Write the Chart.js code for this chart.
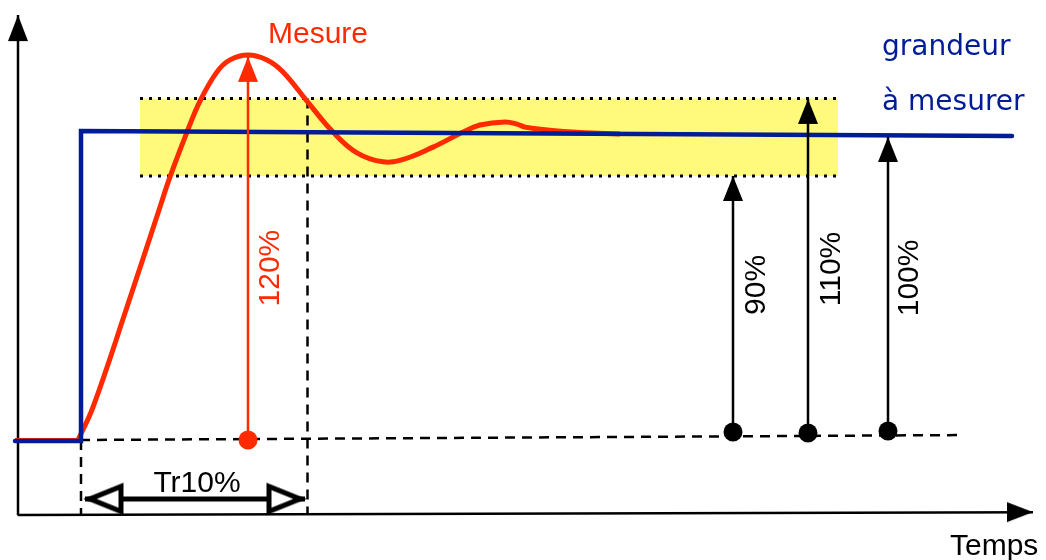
<!DOCTYPE html>
<html>
<head>
<meta charset="utf-8">
<title>Temps de réponse à 10 %</title>
<script src="https://cdn.jsdelivr.net/npm/chart.js@4.4.1/dist/chart.umd.min.js"></script>
<style>
  html, body { margin: 0; padding: 0; background: #fff; }
  #wrap { width: 1046px; height: 560px; position: relative; }
</style>
</head>
<body>
<div id="wrap"><canvas id="chart"></canvas></div>
<script>
// x = temps (unités arbitraires), y = grandeur en % de la valeur finale

// consigne (grandeur à mesurer) : échelon
const consigneT = [1.5, 8.1, 8.1, 101.2];
const consigneV = [-0.3, -0.3, 100.65, 99.0];

// mesure : palier puis réponse amortie
const mesurePalierT = [1.5, 7.8];
const mesurePalierV = [0, 0];
const mesureT = [7.8, 9.3, 12.7, 16.0, 17.0, 18.7, 20.0, 21.7, 23.0, 24.8, 26.7, 28.3, 30.7, 33.3, 35.7, 38.3, 40.5, 43.3, 46.3, 48.0, 50.5, 51.7, 52.5, 54.5, 58.0, 62.0];
const mesureV = [0, 10.7, 43.3, 75.9, 85.7, 100.3, 110.4, 119.9, 123.8, 125.4, 123.8, 119.9, 110.4, 100.3, 93.5, 90.6, 91.6, 95.4, 100.3, 102.6, 103.6, 102.9, 101.9, 101.1, 100.2, 99.7];

// bande de tolérance
const bandeT = [14.0, 83.8];
const bandeHaut = 111.2;
const bandeBas = 86.0;

// repère 0 % (pointillés) et limites verticales
const zeroT = [8.0, 95.8];
const zeroV = [0, 1.6];
const repereT = [8.1, 30.75];
const repereHaut = [0, 111.2];
const axeBas = -24.4;

// flèches verticales : 120 %, 90 %, 110 %, 100 %
const flecheT = [24.8, 73.3, 80.8, 88.8];
const flechePied = [0, 2.6, 2.3, 2.9];
const flecheTete = [124.8, 86.0, 111.1, 98.7];

// temps de réponse Tr10%
const trT = [8.5, 30.5];
const trV = -19.2;

// axes
const axeXT = [1.75, 103.3];
const axeXV = [-24.4, -23.5];
const axeYT = [1.8, 1.8];
const axeYV = [-24.4, 138.4];

// textes
const noteTexts = ['Mesure', 'grandeur', 'à mesurer', 'Tr10%', 'Temps', '120%', '90%', '110%', '100%'];
const noteT = [31.8, 88.2, 88.2, 19.7, 95.0, 27.1, 75.65, 83.2, 91.0];
const noteV = [129.3, 125.4, 107.5, -16.9, -37.3, 56.0, 50.5, 55.7, 52.8];

const RED = '#ff2a00';
const BLUE = '#001c96';
const YELLOW = '#fffa7c';

function pts(ts, vs) {
  return ts.map((t, i) => ({ x: t, y: Array.isArray(vs) ? vs[i] : vs }));
}

// pointe de flèche dessinée dans un canvas, la pointe au centre de l'image
function arrowHead(len, width, color, open) {
  const pad = open ? 8 : 1;
  const c = document.createElement('canvas');
  c.width = width + 2 * pad;
  c.height = 2 * (len + pad);
  const g = c.getContext('2d');
  const cx = c.width / 2;
  const tip = c.height / 2 + (open ? 5 : 0);
  g.beginPath();
  g.moveTo(cx, tip);
  g.lineTo(cx - width / 2, tip + len);
  g.lineTo(cx + width / 2, tip + len);
  g.closePath();
  if (open) {
    g.fillStyle = '#fff';
    g.fill();
    g.lineWidth = 5;
    g.lineJoin = 'miter';
    g.strokeStyle = color;
    g.stroke();
  } else {
    g.fillStyle = color;
    g.fill();
  }
  return c;
}

const headBlack = arrowHead(25, 20, '#000', false);
const headRed = arrowHead(25, 20, RED, false);
const headAxis = arrowHead(26, 20, '#000', false);
const headOpen = arrowHead(31, 25, '#000', true);

const line = (data, extra) => Object.assign({
  data: data,
  showLine: true,
  fill: false,
  tension: 0,
  pointRadius: 0,
  clip: false,
  borderColor: '#000',
  borderWidth: 2
}, extra);

const datasets = [];

// bande jaune + bords pointillés
datasets.push(line(pts(bandeT, bandeHaut), {
  order: 20, borderDash: [3, 6], borderWidth: 3,
  fill: { value: bandeBas }, backgroundColor: YELLOW
}));
datasets.push(line(pts(bandeT, bandeBas), { order: 19, borderDash: [3, 6], borderWidth: 3 }));

// tirets
datasets.push(line(pts(zeroT, zeroV), { order: 18, borderDash: [10, 7], borderWidth: 2.5 }));
repereT.forEach((t, i) => {
  datasets.push(line(pts([t, t], [repereHaut[i], axeBas]), { order: 18, borderDash: [10, 7], borderWidth: 2.5 }));
});

// axes
datasets.push(line(pts(axeXT, axeXV), {
  order: 17, borderWidth: 2.5,
  pointRadius: [0, 5], pointStyle: ['circle', headAxis], pointRotation: [0, 90]
}));
datasets.push(line(pts(axeYT, axeYV), {
  order: 17, borderWidth: 2.5,
  pointRadius: [0, 5], pointStyle: ['circle', headAxis]
}));

// mesure
datasets.push(line(pts(mesurePalierT, mesurePalierV), { order: 6, borderColor: RED, borderWidth: 4 }));
datasets.push(line(pts(mesureT, mesureV), {
  order: 6, borderColor: RED, borderWidth: 5, tension: 0.4
}));

// consigne
datasets.push(line(pts(consigneT, consigneV), {
  order: 5, borderColor: BLUE, borderWidth: 4.5,
  borderJoinStyle: 'miter', borderCapStyle: 'round'
}));

// flèches verticales
flecheT.forEach((t, i) => {
  const c = i === 0 ? RED : '#000';
  datasets.push(line(pts([t, t], [flechePied[i], flecheTete[i]]), {
    order: 2, borderColor: c, borderWidth: 2.5,
    pointRadius: [9.5, 5],
    pointStyle: ['circle', i === 0 ? headRed : headBlack],
    pointBackgroundColor: c, pointBorderColor: c, pointBorderWidth: 0
  }));
});

// double flèche Tr10%
datasets.push(line(pts(trT, trV), {
  order: 1, borderWidth: 5,
  pointRadius: 5, pointStyle: headOpen, pointRotation: [-90, 90]
}));

const notesPlugin = {
  id: 'notes',
  afterDatasetsDraw(chart) {
    const { ctx, scales: { x, y } } = chart;
    const sans = '30px "Liberation Sans", Arial, sans-serif';
    const hand = '28px "DejaVu Sans", sans-serif';
    const looks = [
      { color: RED, font: sans, align: 'center' },
      { color: BLUE, font: hand, align: 'left' },
      { color: BLUE, font: hand, align: 'left' },
      { color: '#000', font: sans, align: 'center' },
      { color: '#000', font: sans, align: 'left' },
      { color: RED, font: sans, align: 'center', rot: true },
      { color: '#000', font: sans, align: 'center', rot: true },
      { color: '#000', font: sans, align: 'center', rot: true },
      { color: '#000', font: sans, align: 'center', rot: true }
    ];
    ctx.save();
    noteTexts.forEach((txt, i) => {
      const look = looks[i];
      ctx.save();
      ctx.translate(x.getPixelForValue(noteT[i]), y.getPixelForValue(noteV[i]));
      ctx.fillStyle = look.color;
      ctx.font = look.font;
      ctx.textAlign = look.align;
      if (look.rot) {
        ctx.rotate(-Math.PI / 2);
        ctx.textBaseline = 'middle';
      } else {
        ctx.textBaseline = 'alphabetic';
      }
      ctx.fillText(txt, 0, 0);
      ctx.restore();
    });
    ctx.restore();
  }
};

new Chart(document.getElementById('chart'), {
  type: 'scatter',
  data: { datasets: datasets },
  options: {
    responsive: true,
    maintainAspectRatio: false,
    animation: false,
    events: [],
    layout: { padding: 0, autoPadding: false },
    plugins: {
      legend: { display: false },
      tooltip: { enabled: false }
    },
    scales: {
      x: { type: 'linear', display: false, min: 0, max: 104.6 },
      y: { type: 'linear', display: false, min: -39.09, max: 143.32 }
    }
  },
  plugins: [notesPlugin]
});
</script>
</body>
</html>
